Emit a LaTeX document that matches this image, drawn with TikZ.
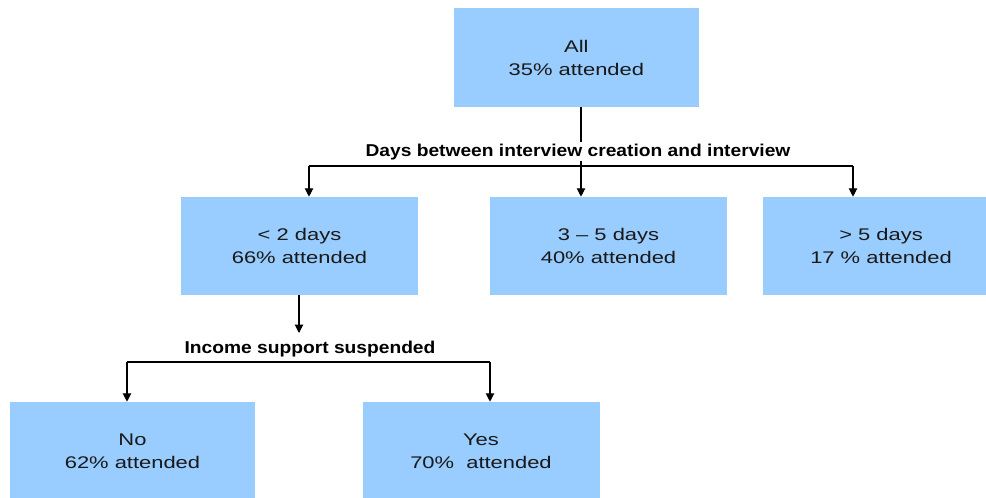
\documentclass[tikz,border=0pt]{standalone}
\usepackage{fontspec}
\setmainfont{Liberation Sans}[FakeStretch=1.3]
\newfontfamily\condfont{Liberation Sans}[FakeStretch=1.12]
\usetikzlibrary{arrows.meta}

\begin{document}
\begin{tikzpicture}[>={Triangle[width=6pt,length=6pt]}]
		
		% --- Parametri ---
		\def\boxW{5.925}
		\def\boxH{2.45}
		\def\busA{8.3}
		\def\busB{3.4}
		
		% --- Stili ---
		\tikzset{
			box/.style={fill=boxblue, draw=none, minimum width=\boxW cm, minimum height=\boxH cm, align=center, text=black!90, font=\fontsize{12}{16.2}\selectfont},
			cond/.style={fill=white, inner sep=1pt, font=\condfont\bfseries\fontsize{12.2}{14}\selectfont},
			conn/.style={draw=black, line width=0.8pt}
		}
		\definecolor{boxblue}{HTML}{99CCFF}
		
		% --- Area ---
		\useasboundingbox (0,0) rectangle (24.65,12.45);
		\clip (0,0) rectangle (24.65,12.45);
		
		% --- Nodi ---
		\node[box, minimum width=6.125cm, minimum height=2.475cm] (all) at (14.41, 11.01) {All\\35\% attended};
		
		\node[box] (lt2) at (7.4875, 6.3) {< 2 days\\66\% attended};
		\node[box] (d35) at (15.2125, 6.3) {3 -- 5 days\\40\% attended};
		\node[box] (gt5) at (22.025, 6.3) {> 5 days\\17 \% attended};
		
		\node[box, minimum width=6.125cm] (no) at (3.3125, 1.175) {No\\62\% attended};
		\node[box] (yes) at (12.025, 1.175) {Yes\\70\%\ \ attended};
		
		% --- Primo livello ---
		\coordinate (jA) at (14.525, \busA);
		\draw[conn, ->] (all.south -| jA) -- (d35.north -| jA);
		\draw[conn] (7.725, \busA) coordinate (jAl) -- (21.325, \busA) coordinate (jAr);
		\draw[conn, ->] (jAl) -- (lt2.north -| jAl);
		\draw[conn, ->] (jAr) -- (gt5.north -| jAr);
		\node[cond] (days) at (14.45, 8.66) {Days between interview creation and interview};
		
		% --- Secondo livello ---
		\coordinate (jB) at (7.475, 4.125);
		\draw[conn, ->] (lt2.south -| jB) -- (jB);
		\node[cond] (income) at (7.75, 3.73) {Income support suspended};
		\draw[conn] (3.175, \busB) coordinate (jBl) -- (12.25, \busB) coordinate (jBr);
		\draw[conn, ->] (jBl) -- (no.north -| jBl);
		\draw[conn, ->] (jBr) -- (yes.north -| jBr);
		
	\end{tikzpicture}
\end{document}
